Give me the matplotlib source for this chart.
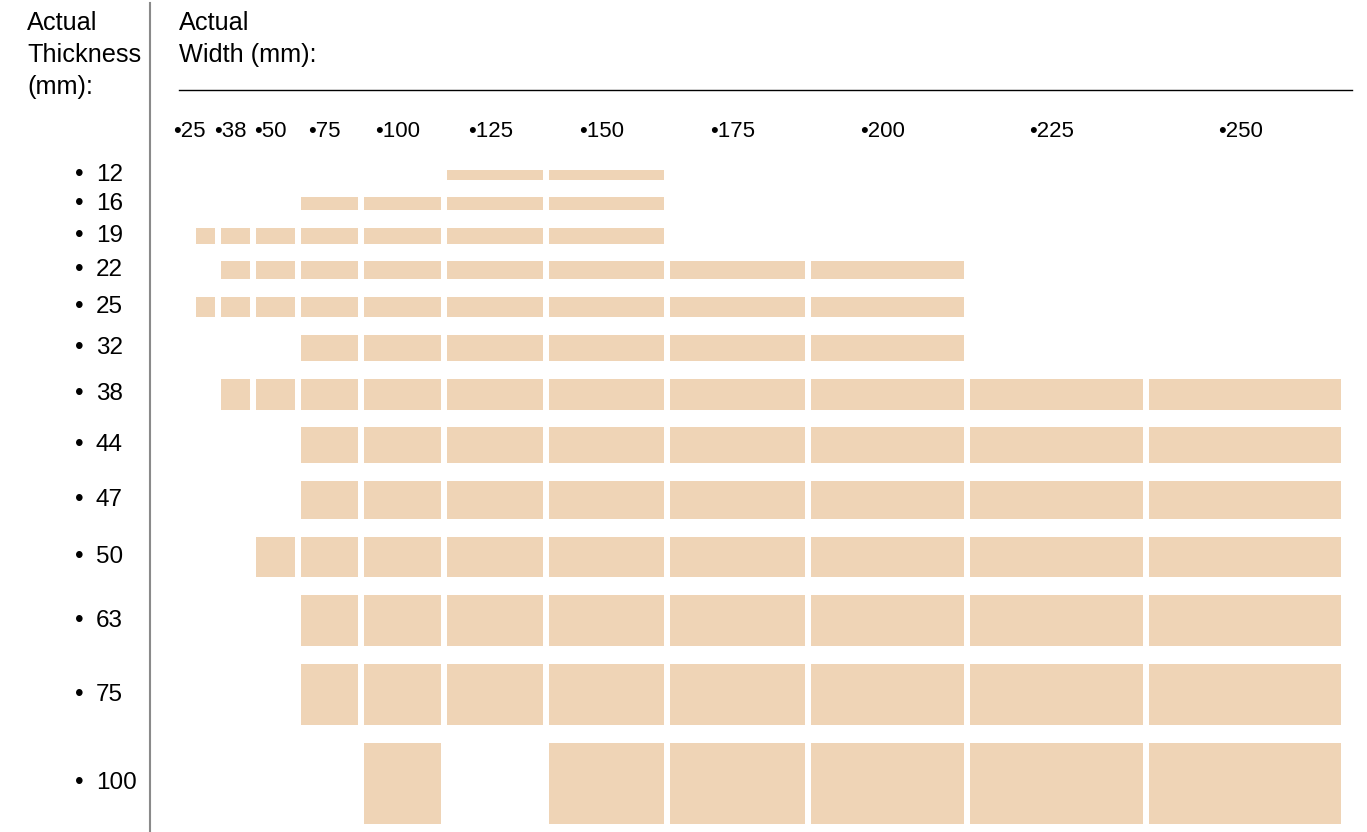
import matplotlib.pyplot as plt
from matplotlib.patches import Rectangle

plt.rcParams['font.family'] = ['Liberation Sans', 'DejaVu Sans']

# nominal sizes (mm)
widths = [25, 38, 50, 75, 100, 125, 150, 175, 200, 225, 250]
thicknesses = [12, 16, 19, 22, 25, 32, 38, 44, 47, 50, 63, 75, 100]

# widths stocked for each thickness
available = {
    12: [125, 150],
    16: [75, 100, 125, 150],
    19: [25, 38, 50, 75, 100, 125, 150],
    22: [38, 50, 75, 100, 125, 150, 175, 200],
    25: [25, 38, 50, 75, 100, 125, 150, 175, 200],
    32: [75, 100, 125, 150, 175, 200],
    38: [38, 50, 75, 100, 125, 150, 175, 200, 225, 250],
    44: [75, 100, 125, 150, 175, 200, 225, 250],
    47: [75, 100, 125, 150, 175, 200, 225, 250],
    50: [50, 75, 100, 125, 150, 175, 200, 225, 250],
    63: [75, 100, 125, 150, 175, 200, 225, 250],
    75: [75, 100, 125, 150, 175, 200, 225, 250],
    100: [100, 150, 175, 200, 225, 250],
}

fill = '#EFD4B6'
W, H = 1367, 832

# layout (pixels per mm + gaps)
x0, sx, gapx = 196, 0.768, 6
y0, sy, gapy = 170, 0.812, 17.75

col_left = {}
x = x0
for w in widths:
    col_left[w] = x
    x += w * sx + gapx

row_top = {}
y = y0
for t in thicknesses:
    row_top[t] = y
    y += t * sy + gapy

fig = plt.figure(figsize=(W / 100, H / 100), dpi=100)
ax = fig.add_axes([0, 0, 1, 1])
ax.set_xlim(0, W)
ax.set_ylim(H, 0)
ax.axis('off')

for t in thicknesses:
    for w in available[t]:
        ax.add_patch(Rectangle((col_left[w], row_top[t]), w * sx, t * sy,
                               facecolor=fill, edgecolor='none'))

# headers
fs = 18.2
for i, line in enumerate(['Actual', 'Thickness', '(mm):']):
    ax.text(27, 30 + 32 * i, line, fontsize=fs, va='baseline', ha='left')
for i, line in enumerate(['Actual', 'Width (mm):']):
    ax.text(179, 30 + 32 * i, line, fontsize=fs, va='baseline', ha='left')

ax.plot([150, 150], [3, H], color='#8a8a8a', lw=1.5)
ax.plot([179, 1352], [90, 90], color='black', lw=1)

# column labels
for i, w in enumerate(widths):
    cx = col_left[w] + w * sx / 2
    if i == 0:
        ax.text(cx, 137, '\u2022' + str(w), fontsize=16, va='baseline', ha='right')
    else:
        ax.text(cx - 5, 137, '\u2022' + str(w), fontsize=16, va='baseline', ha='center')

# row labels
for t in thicknesses:
    cy = row_top[t] + t * sy / 2
    ax.text(79, cy + 6, '\u2022', fontsize=17.5, va='baseline', ha='center')
    ax.text(96, cy + 6, str(t), fontsize=17.5, va='baseline', ha='left')

fig.savefig('out.png', dpi=100)
